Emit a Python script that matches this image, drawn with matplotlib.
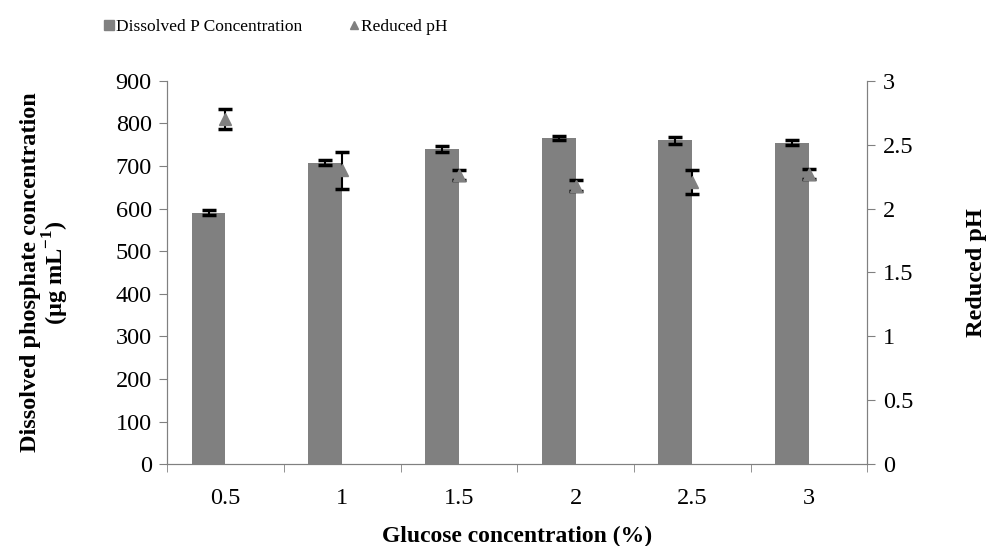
import matplotlib
matplotlib.use("Agg")
import matplotlib.pyplot as plt
import numpy as np

plt.rcParams["font.family"] = ["Liberation Serif", "DejaVu Serif"]
plt.rcParams["mathtext.fontset"] = "custom"
plt.rcParams["mathtext.rm"] = "Liberation Serif"
plt.rcParams["mathtext.bf"] = "Liberation Serif:bold"

glucose = ["0.5", "1", "1.5", "2", "2.5", "3"]
dissolved_p = [590, 708, 740, 765, 760, 755]
dissolved_p_err = [6, 5, 6, 5, 8, 5]
reduced_ph = [2.70, 2.30, 2.26, 2.18, 2.21, 2.27]
reduced_ph_err = [0.08, 0.145, 0.04, 0.04, 0.095, 0.04]

x = np.arange(len(glucose))
bar_w = 0.29

fig = plt.figure(figsize=(9.89, 5.46), dpi=100)
ax = fig.add_axes([0.169, 0.150, 0.708, 0.702])
ax2 = ax.twinx()

ax.bar(x - bar_w / 2, dissolved_p, width=bar_w, color="#808080", zorder=2)
ax.errorbar(x - bar_w / 2, dissolved_p, yerr=dissolved_p_err, fmt="none",
            ecolor="black", elinewidth=1.5, capsize=5, capthick=2.5, zorder=3)
ax2.errorbar(x, reduced_ph, yerr=reduced_ph_err, fmt="^", color="#808080",
             markersize=8, ecolor="black", elinewidth=1.5, capsize=5,
             capthick=2.5, zorder=3)

ax.set_xlim(-0.5, len(glucose) - 0.5)
ax.set_ylim(0, 900)
ax.set_yticks(range(0, 901, 100))
ax2.set_ylim(0, 3)
ax2.set_yticks([0, 0.5, 1, 1.5, 2, 2.5, 3])
ax2.set_yticklabels(["0", "0.5", "1", "1.5", "2", "2.5", "3"])

ax.set_xticks(x)
ax.set_xticklabels(glucose)
ax.set_xticks(np.arange(-0.5, len(glucose)), minor=True)
ax.tick_params(axis="x", which="major", length=0, labelsize=17.5, pad=17)
ax.tick_params(axis="x", which="minor", length=6, color="#808080")
ax.tick_params(axis="y", labelsize=17.5, length=6, color="#808080", pad=5)
ax2.tick_params(axis="y", labelsize=17.5, length=6, color="#808080", pad=5)

for a in (ax, ax2):
    a.spines["top"].set_visible(False)
    for s in ("left", "right", "bottom"):
        a.spines[s].set_color("#808080")

ax.set_xlabel("Glucose concentration (%)", fontsize=17, fontweight="bold",
              labelpad=12)
ax.set_ylabel("Dissolved phosphate concentration\n(µg mL$^{\\mathbf{-1}}$)",
              fontsize=17.5, fontweight="bold", labelpad=32, linespacing=1.0)
ax2.set_ylabel("Reduced pH", fontsize=17.5, fontweight="bold", labelpad=38)

h1 = plt.Line2D([], [], marker="s", linestyle="none", color="#808080",
                markersize=7)
h2 = plt.Line2D([], [], marker="^", linestyle="none", color="#808080",
                markersize=6)
fig.legend([h1, h2], ["Dissolved P Concentration", "Reduced pH"],
           loc="center", bbox_to_anchor=(0.278, 0.95), ncol=2, frameon=False,
           fontsize=12.5, handletextpad=0.0, columnspacing=2.6,
           handlelength=0.8)

fig.savefig("out.png", dpi=100)
